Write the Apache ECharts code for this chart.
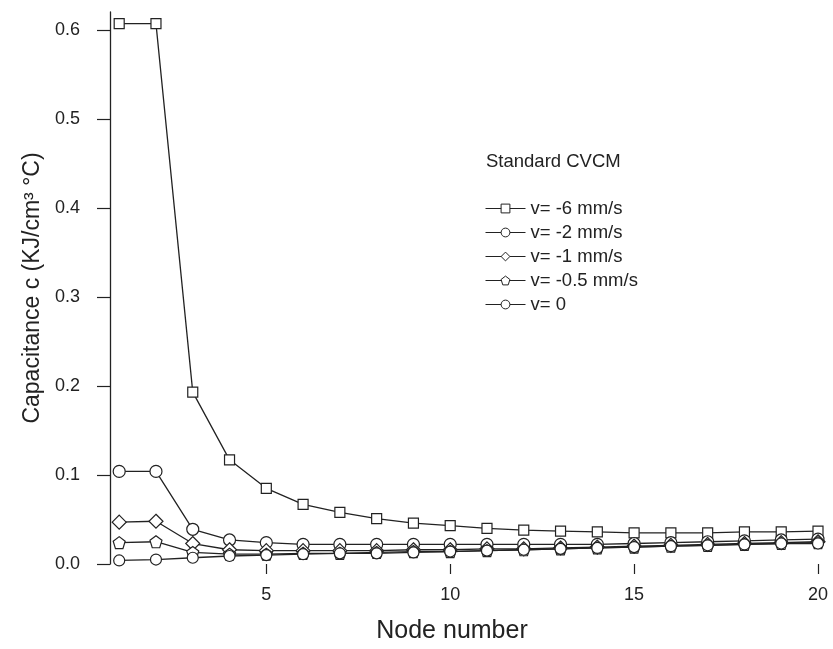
<!DOCTYPE html>
<html>
<head>
<meta charset="utf-8">
<script src="https://cdn.jsdelivr.net/npm/echarts@6/dist/echarts.min.js"></script>
<style>
  html, body { margin: 0; padding: 0; background: #fff; }
  #main { width: 833px; height: 649px; }
</style>
</head>
<body>
<div id="main"></div>
<script>
const nodes = [1, 2, 3, 4, 5, 6, 7, 8, 9, 10, 11, 12, 13, 14, 15, 16, 17, 18, 19, 20]
const vMinus6 = [0.607, 0.607, 0.193, 0.117, 0.085, 0.067, 0.058, 0.051, 0.046, 0.043, 0.040, 0.038, 0.037, 0.036, 0.035, 0.035, 0.035, 0.036, 0.036, 0.037]
const vMinus2 = [0.104, 0.104, 0.039, 0.027, 0.024, 0.022, 0.022, 0.022, 0.022, 0.022, 0.022, 0.022, 0.022, 0.022, 0.023, 0.024, 0.025, 0.026, 0.027, 0.028]
const vMinus1 = [0.047, 0.048, 0.023, 0.016, 0.015, 0.015, 0.015, 0.015, 0.016, 0.016, 0.017, 0.017, 0.018, 0.019, 0.020, 0.021, 0.022, 0.023, 0.024, 0.025]
const vMinus05 = [0.024, 0.025, 0.013, 0.011, 0.011, 0.012, 0.012, 0.013, 0.014, 0.014, 0.015, 0.016, 0.017, 0.018, 0.019, 0.020, 0.021, 0.022, 0.023, 0.024]
const vZero = [0.004, 0.005, 0.007, 0.009, 0.010, 0.011, 0.012, 0.012, 0.013, 0.014, 0.015, 0.016, 0.017, 0.018, 0.019, 0.020, 0.021, 0.022, 0.023, 0.023]

const seriesNames = ['v= -6 mm/s', 'v= -2 mm/s', 'v= -1 mm/s', 'v= -0.5 mm/s', 'v= 0']
const xTicks = [5, 10, 15, 20]
const yTicks = [0, 0.1, 0.2, 0.3, 0.4, 0.5, 0.6]

const font = 'Liberation Sans'
const ink = '#222'
const pentagon = 'path://M0,-10L9.5,-3.1L5.9,8.1L-5.9,8.1L-9.5,-3.1Z'

function pairs(values) {
   return nodes.map((n, i) => [n, values[i]])
}

function makeSeries(name, values, symbol, size) {
   return {
      name: name,
      type: 'line',
      data: pairs(values),
      symbol: symbol,
      symbolSize: size,
      showAllSymbol: true,
      lineStyle: { color: ink, width: 1.3 },
      itemStyle: { color: '#fff', borderColor: ink, borderWidth: 1.2 },
      emphasis: { disabled: true },
      animation: false
   }
}

let myChart = echarts.init(document.getElementById('main'))

myChart.setOption({
   backgroundColor: '#fff',
   title: {
      text: 'Standard CVCM',
      left: 481,
      top: 147,
      textStyle: { fontFamily: font, fontSize: 18.5, fontWeight: 'normal', color: ink }
   },
   legend: {
      data: seriesNames,
      orient: 'vertical',
      left: 480,
      top: 194,
      itemWidth: 40,
      itemHeight: 11,
      itemGap: 5,
      lineStyle: { width: 1 },
      itemStyle: { borderWidth: 1 },
      textStyle: { fontFamily: font, fontSize: 18.5, color: ink }
   },
   grid: {
      left: 110,
      right: 15,
      top: 12,
      bottom: 64
   },
   xAxis: {
      type: 'value',
      min: 0.75,
      max: 20,
      name: 'Node number',
      nameLocation: 'middle',
      nameGap: 55,
      nameTextStyle: { fontFamily: font, fontSize: 25, color: ink, padding: [0, 24, 0, 0] },
      axisLine: { show: false },
      axisTick: {
         show: true,
         customValues: xTicks,
         length: 10,
         lineStyle: { color: ink, width: 1.2 }
      },
      axisLabel: {
         customValues: xTicks,
         margin: 22,
         fontFamily: font,
         fontSize: 18,
         color: ink
      },
      splitLine: { show: false }
   },
   yAxis: {
      type: 'value',
      min: 0,
      max: 0.62,
      name: 'Capacitance c (KJ/cm³ °C)',
      nameLocation: 'middle',
      nameGap: 60,
      nameTextStyle: { fontFamily: font, fontSize: 23, color: ink },
      axisLine: { show: true, lineStyle: { color: ink, width: 1.3 } },
      axisTick: {
         show: true,
         customValues: yTicks,
         length: 13,
         lineStyle: { color: ink, width: 1.2 }
      },
      axisLabel: {
         customValues: yTicks,
         margin: 30,
         formatter: v => v.toFixed(1),
         fontFamily: font,
         fontSize: 18,
         color: ink
      },
      splitLine: { show: false }
   },
   series: [
      makeSeries(seriesNames[0], vMinus6, 'rect', 10),
      makeSeries(seriesNames[1], vMinus2, 'circle', 12),
      makeSeries(seriesNames[2], vMinus1, 'diamond', 14),
      makeSeries(seriesNames[3], vMinus05, pentagon, 12),
      makeSeries(seriesNames[4], vZero, 'circle', 11)
   ]
})
</script>
</body>
</html>
